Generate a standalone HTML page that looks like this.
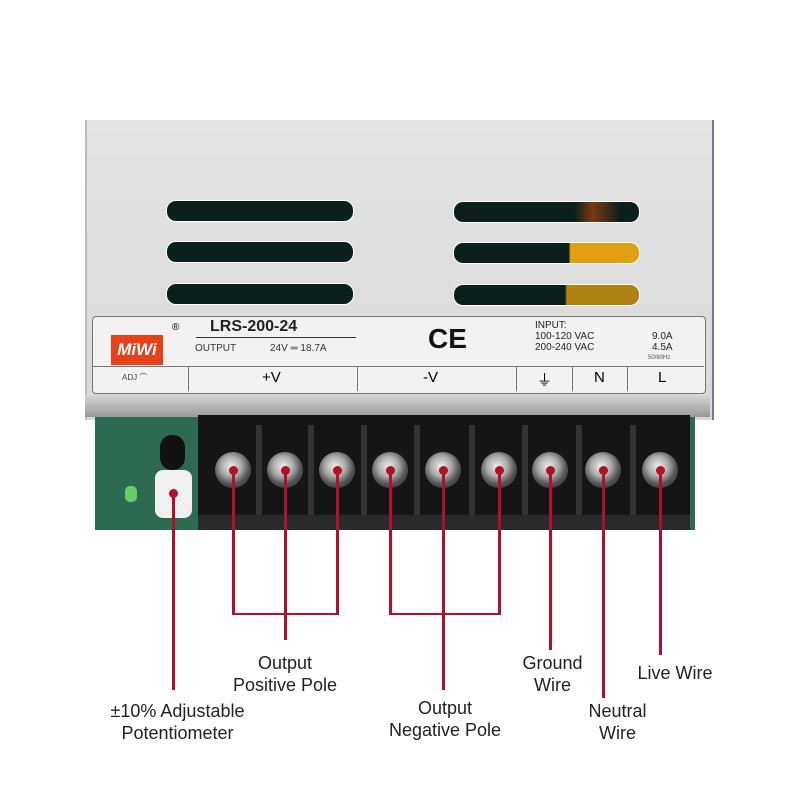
<!DOCTYPE html>
<html><head><meta charset="utf-8"><style>
body{margin:0;width:800px;height:800px;background:#fff;position:relative;overflow:hidden;font-family:"Liberation Sans",sans-serif}
.a{position:absolute}
.vent{position:absolute;height:20px;border-radius:10px;background:#0b1f1c;border:1px solid #fff}
.scr{position:absolute;width:36px;height:36px;border-radius:50%;background:radial-gradient(circle at 45% 40%,#eee 0,#aaa 35%,#555 60%,#222 100%)}
.rib{position:absolute;top:425px;width:6px;height:100px;background:#333}
.r{position:absolute;background:#b0102a}
.lab{position:absolute;font-size:18px;color:#222;text-align:center;line-height:22px}
.dot{position:absolute;width:9px;height:9px;border-radius:50%;background:#b0102a}
</style></head><body>
<div class="a" style="left:85px;top:120px;width:625px;height:300px;background:linear-gradient(#e4e4e4,#d8d8d8);border-left:2px solid #bbb;border-right:2px solid #778"></div>
<div class="vent" style="left:166px;top:200px;width:186px"></div>
<div class="vent" style="left:166px;top:241px;width:186px"></div>
<div class="vent" style="left:166px;top:283px;width:186px"></div>
<div class="vent" style="left:453px;top:201px;width:185px;background:linear-gradient(90deg,#0b1f1c 65%,#7a3a10 75%,#0b1f1c 90%)"></div>
<div class="vent" style="left:453px;top:242px;width:185px;background:linear-gradient(90deg,#0b1f1c 62%,#e0a010 63%)"></div>
<div class="vent" style="left:453px;top:284px;width:185px;background:linear-gradient(90deg,#0b1f1c 60%,#b08010 61%)"></div>
<div class="a" style="left:92px;top:316px;width:612px;height:76px;background:#f2f2f2;border:1px solid #777;border-radius:4px"></div>
<div class="a" style="left:92px;top:366px;width:612px;height:1px;background:#777"></div>
<div class="a" style="left:111px;top:335px;width:52px;height:30px;background:#e8401a;color:#fff;font-style:italic;font-weight:bold;font-size:17px;text-align:center;line-height:30px">MiWi</div>
<div class="a" style="left:172px;top:322px;font-size:10px">®</div>
<div class="a" style="left:210px;top:318px;font-size:16px;font-weight:bold;color:#222">LRS-200-24</div>
<div class="a" style="left:196px;top:337px;width:160px;height:1px;background:#333"></div>
<div class="a" style="left:195px;top:343px;font-size:10px;color:#333">OUTPUT</div>
<div class="a" style="left:270px;top:343px;font-size:10px;color:#333">24V ═ 18.7A</div>
<div class="a" style="left:428px;top:323px;font-size:28px;color:#111;font-weight:bold">CE</div>
<div class="a" style="left:535px;top:320px;font-size:10px;line-height:11px;color:#222">INPUT:<br>100-120 VAC<br>200-240 VAC</div>
<div class="a" style="left:652px;top:331px;font-size:10px;line-height:11px;color:#222;text-align:right">9.0A<br>4.5A</div>
<div class="a" style="left:648px;top:355px;font-size:6px;color:#555">50/60Hz</div>
<div class="a" style="left:188px;top:367px;width:1px;height:24px;background:#777"></div>
<div class="a" style="left:357px;top:367px;width:1px;height:24px;background:#777"></div>
<div class="a" style="left:516px;top:367px;width:1px;height:24px;background:#777"></div>
<div class="a" style="left:572px;top:367px;width:1px;height:24px;background:#777"></div>
<div class="a" style="left:627px;top:367px;width:1px;height:24px;background:#777"></div>
<div class="a" style="left:122px;top:372px;font-size:8px;color:#444">ADJ ⌒</div>
<div class="a" style="left:262px;top:369px;font-size:15px">+V</div>
<div class="a" style="left:423px;top:369px;font-size:15px">-V</div>
<div class="a" style="left:537px;top:369px;font-size:15px">⏚</div>
<div class="a" style="left:594px;top:369px;font-size:15px">N</div>
<div class="a" style="left:658px;top:369px;font-size:15px">L</div>
<div class="a" style="left:95px;top:415px;width:600px;height:115px;background:#2c6a52"></div>
<div class="a" style="left:85px;top:395px;width:625px;height:22px;background:linear-gradient(#d5d5d5,#999)"></div>
<div class="a" style="left:155px;top:470px;width:37px;height:48px;background:#f0f0f0;border-radius:8px"></div>
<div class="a" style="left:125px;top:486px;width:12px;height:16px;background:#6c6;border-radius:5px"></div>
<div class="a" style="left:160px;top:435px;width:25px;height:35px;background:#111;border-radius:12px"></div>
<div class="a" style="left:198px;top:415px;width:492px;height:115px;background:#151515"></div>
<div class="rib" style="left:256px"></div><div class="rib" style="left:308px"></div><div class="rib" style="left:361px"></div>
<div class="rib" style="left:414px"></div><div class="rib" style="left:469px"></div><div class="rib" style="left:522px"></div>
<div class="rib" style="left:576px"></div><div class="rib" style="left:630px"></div>
<div class="a" style="left:198px;top:515px;width:492px;height:15px;background:#2a2a2a"></div>
<div class="scr" style="left:215px;top:452px"></div>
<div class="scr" style="left:267px;top:452px"></div>
<div class="scr" style="left:319px;top:452px"></div>
<div class="scr" style="left:372px;top:452px"></div>
<div class="scr" style="left:425px;top:452px"></div>
<div class="scr" style="left:481px;top:452px"></div>
<div class="scr" style="left:532px;top:452px"></div>
<div class="scr" style="left:585px;top:452px"></div>
<div class="scr" style="left:642px;top:452px"></div>
<div class="dot" style="left:169px;top:489px"></div><div class="r" style="left:172px;top:493px;width:3px;height:197px"></div>
<div class="dot" style="left:229px;top:466px"></div><div class="r" style="left:232px;top:470px;width:3px;height:145px"></div>
<div class="dot" style="left:281px;top:466px"></div><div class="r" style="left:284px;top:470px;width:3px;height:170px"></div>
<div class="dot" style="left:333px;top:466px"></div><div class="r" style="left:336px;top:470px;width:3px;height:145px"></div>
<div class="r" style="left:232px;top:613px;width:107px;height:2px"></div>
<div class="dot" style="left:386px;top:466px"></div><div class="r" style="left:389px;top:470px;width:3px;height:145px"></div>
<div class="dot" style="left:439px;top:466px"></div><div class="r" style="left:442px;top:470px;width:3px;height:220px"></div>
<div class="dot" style="left:495px;top:466px"></div><div class="r" style="left:498px;top:470px;width:3px;height:145px"></div>
<div class="r" style="left:389px;top:613px;width:112px;height:2px"></div>
<div class="dot" style="left:546px;top:466px"></div><div class="r" style="left:549px;top:470px;width:3px;height:180px"></div>
<div class="dot" style="left:599px;top:466px"></div><div class="r" style="left:602px;top:470px;width:3px;height:228px"></div>
<div class="dot" style="left:656px;top:466px"></div><div class="r" style="left:659px;top:470px;width:3px;height:185px"></div>
<div class="lab" style="left:210px;top:652px;width:150px">Output<br>Positive Pole</div>
<div class="lab" style="left:90px;top:700px;width:175px">±10% Adjustable<br>Potentiometer</div>
<div class="lab" style="left:370px;top:697px;width:150px">Output<br>Negative Pole</div>
<div class="lab" style="left:500px;top:652px;width:105px">Ground<br>Wire</div>
<div class="lab" style="left:570px;top:700px;width:95px">Neutral<br>Wire</div>
<div class="lab" style="left:625px;top:662px;width:100px">Live Wire</div>
</body></html>
